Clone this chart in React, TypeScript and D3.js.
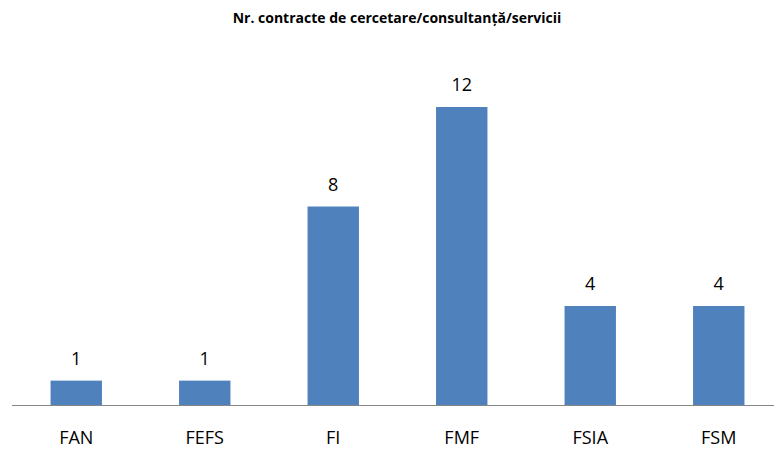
import React from 'react'
import * as d3 from 'd3'

const categories = ['FAN', 'FEFS', 'FI', 'FMF', 'FSIA', 'FSM']
const values = [1, 1, 8, 12, 4, 4]
const title = 'Nr. contracte de cercetare/consultanță/servicii'

const W = 774
const H = 450
const baseY = 405.5
const font = '"Open Sans", "Noto Sans", sans-serif'

export default function App() {
  const x = d3.scaleBand<string>()
    .domain(categories)
    .range([12, 783])
    .paddingInner(0.6)
    .paddingOuter(0.3)

  const y = d3.scaleLinear()
    .domain([0, 12])
    .range([baseY, 107])

  return (
    <svg width={W} height={H} style={{ position: 'absolute', left: 0, top: 0, background: '#fff' }}>
      <text x={397} y={23} textAnchor="middle" fontFamily={font} fontWeight={700} fontSize={14} fill="#000">
        {title}
      </text>
      {categories.map((c, i) => (
        <g key={c}>
          <rect
            x={x(c)}
            y={y(values[i])}
            width={x.bandwidth()}
            height={baseY - y(values[i])}
            fill="#4F81BD"
          />
          <text
            x={(x(c) ?? 0) + x.bandwidth() / 2}
            y={y(values[i]) - 16}
            textAnchor="middle"
            fontFamily={font}
            fontSize={18}
            fill="#000"
          >
            {values[i]}
          </text>
          <text
            x={(x(c) ?? 0) + x.bandwidth() / 2}
            y={444}
            textAnchor="middle"
            fontFamily={font}
            fontSize={18}
            fill="#000"
          >
            {c}
          </text>
        </g>
      ))}
      <line x1={12} x2={W} y1={baseY} y2={baseY} stroke="#868686" strokeWidth={1} />
    </svg>
  )
}
